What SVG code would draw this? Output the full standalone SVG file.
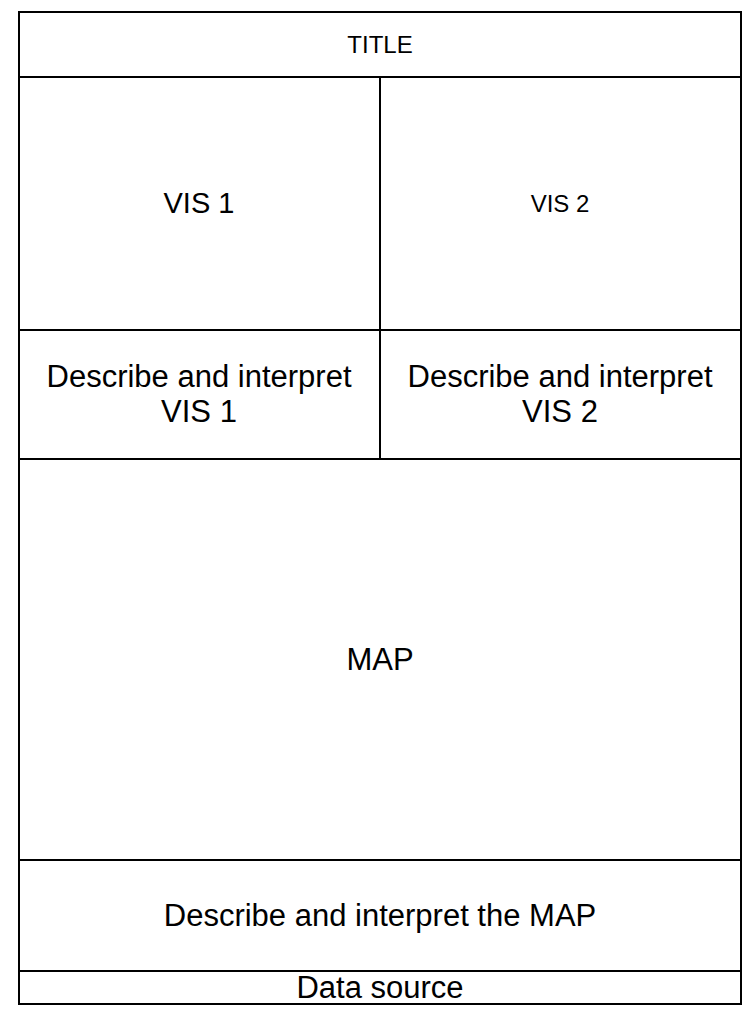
<svg xmlns="http://www.w3.org/2000/svg" width="756" height="1024" viewBox="0 0 756 1024">
<style>
.cell{fill:#ffffff;stroke:#000000;stroke-width:2}
.t{font-family:"Liberation Sans",Arial,sans-serif;fill:#000000;text-anchor:middle}
.s{font-size:24px}
.m{font-size:29px}
.l{font-size:31px}
</style>
<rect x="0" y="0" width="756" height="1024" fill="#ffffff"/>
<g id="title"><rect class="cell" x="19" y="12" width="722" height="65"/><text class="t s" x="380" y="53">TITLE</text></g>
<g id="vis1"><rect class="cell" x="19" y="77" width="361" height="253"/><text class="t m" x="199" y="213">VIS 1</text></g>
<g id="vis2"><rect class="cell" x="380" y="77" width="361" height="253"/><text class="t s" x="560" y="212">VIS 2</text></g>
<g id="desc1"><rect class="cell" x="19" y="330" width="361" height="129"/><text class="t l" x="199" y="387">Describe and interpret</text><text class="t l" x="199" y="422">VIS 1</text></g>
<g id="desc2"><rect class="cell" x="380" y="330" width="361" height="129"/><text class="t l" x="560" y="387">Describe and interpret</text><text class="t l" x="560" y="422">VIS 2</text></g>
<g id="map"><rect class="cell" x="19" y="459" width="722" height="401"/><text class="t l" x="380" y="670">MAP</text></g>
<g id="descmap"><rect class="cell" x="19" y="860" width="722" height="111"/><text class="t l" x="380" y="926">Describe and interpret the MAP</text></g>
<g id="datasource"><rect class="cell" x="19" y="971" width="722" height="33"/><text class="t l" x="380" y="998">Data source</text></g>
<g id="connectors"/>
</svg>
